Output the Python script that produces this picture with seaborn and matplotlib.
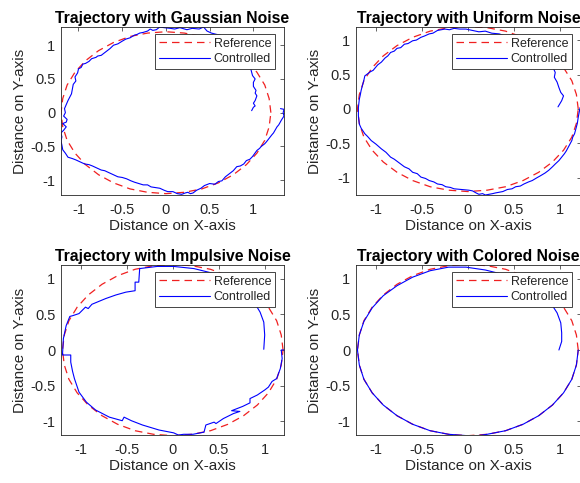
import matplotlib
matplotlib.use("Agg")
import matplotlib.pyplot as plt
import seaborn as sns

# reference trajectory (circle of radius ~1.2)
ref_x = [1.20, 1.18, 1.13, 1.04, 0.92, 0.77, 0.60, 0.41, 0.21, 0.00, -0.21, -0.41, -0.60,
         -0.77, -0.92, -1.04, -1.13, -1.18, -1.20, -1.18, -1.13, -1.04, -0.92, -0.77,
         -0.60, -0.41, -0.21, 0.00, 0.21, 0.41, 0.60, 0.77, 0.92, 1.04, 1.13, 1.18, 1.20]
ref_y = [0.00, 0.21, 0.41, 0.60, 0.77, 0.92, 1.04, 1.13, 1.18, 1.20, 1.18, 1.13, 1.04,
         0.92, 0.77, 0.60, 0.41, 0.21, 0.00, -0.21, -0.41, -0.60, -0.77, -0.92,
         -1.04, -1.13, -1.18, -1.20, -1.18, -1.13, -1.04, -0.92, -0.77, -0.60, -0.41, -0.21, 0.00]

# controlled trajectories, (x, y) points in drawing order
gauss_xy = [(0.98, 0.03), (1.00, 0.08), (1.02, 0.10), (1.00, 0.14), (1.02, 0.18), (1.04, 0.25),
            (1.02, 0.29), (1.03, 0.33), (1.00, 0.39), (1.00, 0.45), (1.02, 0.50), (0.99, 0.55),
            (0.98, 0.60), (0.97, 0.65), (0.92, 0.78), (0.85, 0.92), (0.75, 1.04), (0.62, 1.15),
            (0.58, 1.16), (0.52, 1.18), (0.47, 1.21), (0.43, 1.27), (0.38, 1.24), (0.30, 1.25),
            (0.24, 1.23), (0.16, 1.26), (0.10, 1.24), (0.05, 1.25), (-0.02, 1.26), (-0.07, 1.27),
            (-0.11, 1.23), (-0.15, 1.22), (-0.18, 1.24), (-0.21, 1.21), (-0.26, 1.19),
            (-0.30, 1.18), (-0.33, 1.16), (-0.36, 1.15), (-0.41, 1.11), (-0.46, 1.09),
            (-0.50, 1.06), (-0.55, 1.02), (-0.60, 1.00), (-0.64, 0.95), (-0.69, 0.90),
            (-0.74, 0.85), (-0.78, 0.84), (-0.80, 0.82), (-0.85, 0.80), (-0.88, 0.76),
            (-0.92, 0.73), (-0.95, 0.72), (-0.97, 0.67), (-1.00, 0.65), (-1.01, 0.59),
            (-1.04, 0.53), (-1.03, 0.47), (-1.06, 0.42), (-1.07, 0.35), (-1.08, 0.28),
            (-1.10, 0.23), (-1.12, 0.18), (-1.14, 0.12), (-1.16, 0.06), (-1.15, 0.00),
            (-1.17, -0.05), (-1.13, -0.10), (-1.14, -0.14), (-1.18, -0.16), (-1.14, -0.21),
            (-1.17, -0.26), (-1.20, -0.30), (-1.19, -0.36), (-1.20, -0.42), (-1.19, -0.48),
            (-1.18, -0.55), (-1.15, -0.60), (-1.12, -0.66), (-1.07, -0.68), (-1.03, -0.70),
            (-0.98, -0.73), (-0.93, -0.76), (-0.88, -0.77), (-0.84, -0.79), (-0.79, -0.82),
            (-0.74, -0.85), (-0.70, -0.86), (-0.65, -0.89), (-0.60, -0.92), (-0.55, -0.95),
            (-0.50, -0.96), (-0.45, -0.98), (-0.40, -1.01), (-0.36, -1.03), (-0.31, -1.05),
            (-0.26, -1.07), (-0.21, -1.07), (-0.17, -1.10), (-0.12, -1.11), (-0.07, -1.12),
            (-0.02, -1.15), (0.02, -1.17), (0.08, -1.17), (0.13, -1.20), (0.18, -1.21),
            (0.22, -1.19), (0.25, -1.18), (0.28, -1.20), (0.31, -1.19), (0.35, -1.15),
            (0.40, -1.12), (0.44, -1.08), (0.50, -1.05), (0.56, -1.06), (0.60, -1.02),
            (0.64, -1.01), (0.68, -0.95), (0.73, -0.90), (0.77, -0.86), (0.81, -0.80),
            (0.85, -0.79), (0.89, -0.76), (0.92, -0.71), (0.96, -0.69), (0.99, -0.65),
            (1.04, -0.56), (1.07, -0.53), (1.09, -0.50), (1.13, -0.46), (1.15, -0.43),
            (1.18, -0.38), (1.21, -0.33), (1.23, -0.30), (1.27, -0.21), (1.29, -0.18),
            (1.32, -0.11), (1.35, -0.05), (1.34, 0.00), (1.35, 0.05), (1.31, 0.06)]

unif_xy = [(0.98, 0.03), (1.02, 0.12), (1.04, 0.19), (1.01, 0.24), (0.99, 0.31), (0.97, 0.39),
           (0.94, 0.46), (0.95, 0.53), (0.92, 0.62), (0.80, 0.80), (0.62, 0.95), (0.45, 1.04),
           (0.34, 1.09), (0.26, 1.10), (0.19, 1.13), (0.12, 1.12), (0.05, 1.14), (-0.02, 1.16),
           (-0.09, 1.16), (-0.15, 1.17), (-0.20, 1.15), (-0.25, 1.16), (-0.29, 1.15),
           (-0.33, 1.14), (-0.38, 1.10), (-0.42, 1.09), (-0.47, 1.06), (-0.51, 1.04),
           (-0.56, 1.00), (-0.60, 0.99), (-0.65, 0.95), (-0.69, 0.94), (-0.73, 0.89),
           (-0.77, 0.88), (-0.80, 0.84), (-0.84, 0.82), (-0.87, 0.77), (-0.90, 0.74),
           (-0.94, 0.68), (-0.98, 0.64), (-1.03, 0.56), (-1.06, 0.54), (-1.08, 0.52),
           (-1.12, 0.48), (-1.13, 0.42), (-1.14, 0.37), (-1.16, 0.27), (-1.17, 0.20),
           (-1.18, 0.14), (-1.19, 0.02), (-1.19, -0.10), (-1.18, -0.22), (-1.16, -0.28),
           (-1.12, -0.36), (-1.09, -0.40), (-1.05, -0.46), (-1.00, -0.51), (-0.94, -0.58),
           (-0.89, -0.63), (-0.84, -0.70), (-0.80, -0.73), (-0.76, -0.77), (-0.69, -0.84),
           (-0.64, -0.87), (-0.60, -0.92), (-0.55, -0.94), (-0.51, -0.99), (-0.46, -1.01),
           (-0.42, -1.04), (-0.37, -1.06), (-0.33, -1.09), (-0.28, -1.10), (-0.24, -1.13),
           (-0.19, -1.14), (-0.15, -1.16), (-0.07, -1.17), (0.01, -1.18), (0.05, -1.19),
           (0.09, -1.22), (0.12, -1.24), (0.16, -1.23), (0.19, -1.25), (0.23, -1.24),
           (0.27, -1.23), (0.30, -1.22), (0.34, -1.21), (0.38, -1.20), (0.43, -1.17),
           (0.48, -1.16), (0.52, -1.13), (0.57, -1.12), (0.61, -1.09), (0.66, -1.06),
           (0.70, -1.04), (0.75, -1.00), (0.79, -0.97), (0.84, -0.93), (0.88, -0.89),
           (0.92, -0.84), (0.95, -0.80), (0.99, -0.75), (1.02, -0.70), (1.05, -0.65),
           (1.07, -0.61), (1.09, -0.56), (1.11, -0.51), (1.13, -0.46), (1.14, -0.41),
           (1.16, -0.36), (1.17, -0.31), (1.18, -0.26), (1.19, -0.21), (1.20, -0.12),
           (1.21, -0.05), (1.22, 0.02)]

impulse_xy = [(0.99, 0.01), (1.00, 0.21), (0.99, 0.39), (0.95, 0.53), (0.88, 0.68), (0.75, 0.85),
              (0.60, 0.98), (0.45, 1.07), (0.23, 1.14), (0.01, 1.17), (-0.17, 1.17),
              (-0.36, 1.14), (-0.37, 0.95), (-0.41, 0.95), (-0.41, 0.83), (-0.51, 0.81),
              (-0.62, 0.77), (-0.73, 0.72), (-0.88, 0.64), (-0.92, 0.58), (-0.95, 0.60),
              (-1.02, 0.51), (-1.09, 0.48), (-1.12, 0.47), (-1.16, 0.34), (-1.19, 0.16),
              (-1.20, -0.07), (-1.11, -0.07), (-1.11, -0.17), (-1.09, -0.30), (-1.07, -0.40),
              (-1.02, -0.59), (-0.94, -0.73), (-0.84, -0.84), (-0.69, -0.94), (-0.55, -0.99),
              (-0.53, -0.94), (-0.45, -0.99), (-0.33, -1.05), (-0.15, -1.12), (0.01, -1.16),
              (0.06, -1.19), (0.12, -1.18), (0.22, -1.18), (0.34, -1.15), (0.36, -1.05),
              (0.45, -1.01), (0.47, -1.03), (0.55, -0.96), (0.66, -0.89), (0.73, -0.86),
              (0.64, -0.85), (0.76, -0.79), (0.84, -0.74), (0.84, -0.68), (0.92, -0.63),
              (1.00, -0.56), (1.04, -0.52), (1.08, -0.44), (1.13, -0.40), (1.17, -0.26),
              (1.19, -0.12), (1.18, 0.00), (1.21, 0.00)]

colored_xy = [(0.99, 0.00), (1.02, 0.12), (1.02, 0.24), (1.01, 0.38), (0.97, 0.52), (0.90, 0.66),
              (0.80, 0.78), (0.66, 0.90), (0.52, 0.99), (0.41, 1.05), (0.19, 1.12),
              (-0.02, 1.16), (-0.21, 1.16), (-0.41, 1.11), (-0.60, 1.02), (-0.77, 0.90),
              (-0.92, 0.76), (-1.04, 0.59), (-1.13, 0.40), (-1.18, 0.21), (-1.20, 0.00),
              (-1.18, -0.21), (-1.13, -0.41), (-1.04, -0.60), (-0.92, -0.77), (-0.77, -0.92),
              (-0.60, -1.04), (-0.41, -1.13), (-0.21, -1.18), (0.00, -1.20), (0.10, -1.20),
              (0.21, -1.18), (0.41, -1.13), (0.60, -1.04), (0.77, -0.92), (0.92, -0.77),
              (1.04, -0.60), (1.13, -0.41), (1.18, -0.21), (1.20, 0.00)]

titles = ["Trajectory with Gaussian Noise", "Trajectory with Uniform Noise",
          "Trajectory with Impulsive Noise", "Trajectory with Colored Noise"]
curves = [gauss_xy, unif_xy, impulse_xy, colored_xy]

sns.set_theme(style="white")
plt.rcParams["font.family"] = ["Liberation Sans", "DejaVu Sans"]

dark = (0.15, 0.15, 0.15)
W, H = 580, 483
fig = plt.figure(figsize=(W / 100, H / 100), dpi=100)

# axes boxes in pixels: left, top, width, height
boxes = [(61, 27, 223, 168), (356, 27, 225, 168), (61, 265, 223, 170), (356, 265, 225, 170)]
xlims = [(-1.2, 1.35), (-1.216, 1.23), (-1.216, 1.21), (-1.216, 1.23)]
ylims = [(-1.22, 1.27), (-1.25, 1.19), (-1.19, 1.19), (-1.19, 1.19)]
ticks = [-1, -0.5, 0, 0.5, 1]
tick_labels = ["-1", "-0.5", "0", "0.5", "1"]

for i in range(4):
    l, t, w, h = boxes[i]
    ax = fig.add_axes([l / W, 1 - (t + h) / H, w / W, h / H])
    cx = [p[0] for p in curves[i]]
    cy = [p[1] for p in curves[i]]
    sns.lineplot(x=ref_x, y=ref_y, sort=False, estimator=None, ax=ax, color="#f02020",
                 linestyle=(0, (6, 4)), linewidth=0.9, label="Reference")
    sns.lineplot(x=cx, y=cy, sort=False, estimator=None, ax=ax, color="#0000ff",
                 linewidth=0.8, label="Controlled")
    ax.set_xlim(xlims[i])
    ax.set_ylim(ylims[i])
    ax.set_xticks(ticks)
    ax.set_xticklabels(tick_labels)
    ax.set_yticks(ticks)
    ax.set_yticklabels(tick_labels)
    ax.tick_params(direction="in", length=3, width=0.5, color=dark, labelcolor=dark,
                   labelsize=10.5, top=True, right=True)
    ax.tick_params(axis="x", pad=6)
    ax.tick_params(axis="y", pad=4)
    for s in ax.spines.values():
        s.set_color(dark)
        s.set_linewidth(0.6)
    ax.set_title(titles[i], fontsize=11.3, fontweight="bold", color="black", pad=3)
    ax.set_xlabel("Distance on X-axis", fontsize=11, color=dark, labelpad=1)
    ax.set_ylabel("Distance on Y-axis", fontsize=11, color=dark, labelpad=2)
    leg = ax.legend(loc="upper right", bbox_to_anchor=(1 - 9 / w, 1 - 7 / h), borderaxespad=0,
                    fontsize=9, handlelength=4.1, handletextpad=0.3, borderpad=0.3,
                    labelspacing=0.25, fancybox=False, framealpha=1)
    leg.get_frame().set_edgecolor(dark)
    leg.get_frame().set_linewidth(0.6)
    for txt in leg.get_texts():
        txt.set_color(dark)

fig.savefig("out.png", dpi=100)
